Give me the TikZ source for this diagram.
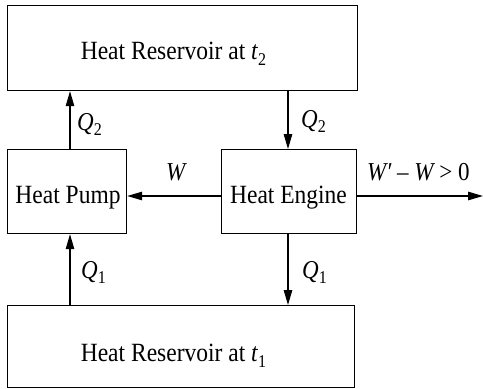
\documentclass[tikz,border=0pt]{standalone}
\usepackage{fontspec}
\setmainfont{Liberation Serif}
\usepackage{graphicx}
\usetikzlibrary{arrows.meta}
\newcommand{\vst}[1]{\scalebox{1}[1.12]{#1}}
\newcommand{\sub}[1]{\raisebox{-0.22em}{\fontsize{16}{18}\selectfont #1}}
\begin{document}
\begin{tikzpicture}[x=1pt,y=-1pt,
  box/.style={draw,line width=1.2pt,inner sep=0pt,anchor=north west},
  txt/.style={font=\fontsize{23.5}{26}\selectfont,inner sep=0pt,anchor=base},
  lbl/.style={font=\fontsize{23}{26}\selectfont\itshape,inner sep=0pt,anchor=base west},
  flow/.style={line width=1.2pt,-{Triangle[length=15pt,width=8.5pt]}}]
\useasboundingbox (0,0) rectangle (483,389);
\node[box,minimum width=350pt,minimum height=85pt] (top) at (7,5) {};
\node[box,minimum width=119pt,minimum height=84pt] (pump) at (7,149) {};
\node[box,minimum width=135pt,minimum height=84pt] (eng) at (221,149) {};
\node[box,minimum width=347pt,minimum height=82pt] (bot) at (7,305) {};
\node[txt] (toptxt) at (173.5,59.5) {\vst{Heat Reservoir at \textit{t}\sub{2}}};
\node[txt] (pumptxt) at (68,203) {\vst{Heat Pump}};
\node[txt] (engtxt) at (288.5,203) {\vst{Heat Engine}};
\node[txt] (bottxt) at (173.5,361.5) {\vst{Heat Reservoir at \textit{t}\sub{1}}};
\coordinate (out) at (483,196);
\draw[flow] (70,305) coordinate (a1) -- (a1 |- pump.south);
\draw[flow] (a1 |- pump.north) -- (a1 |- top.south);
\draw[flow] (288,90) coordinate (b1) -- (b1 |- eng.north);
\draw[flow] (b1 |- eng.south) -- (b1 |- bot.north);
\draw[flow] (221,196) coordinate (w1) -- (w1 -| pump.east);
\draw[flow] (w1 -| eng.east) -- (out);
\node[lbl] (q2a) at (77,130) {\vst{Q\sub{\upshape 2}}};
\node[lbl] (q2b) at (301,127) {\vst{Q\sub{\upshape 2}}};
\node[lbl] (w) at (166,180) {\vst{W}};
\node[lbl] (wp) at (367,180) {\vst{W′ \upshape– \itshape W \upshape> 0}};
\node[lbl] (q1a) at (81,278) {\vst{Q\sub{\upshape 1}}};
\node[lbl] (q1b) at (302,278) {\vst{Q\sub{\upshape 1}}};
\end{tikzpicture}
\end{document}
